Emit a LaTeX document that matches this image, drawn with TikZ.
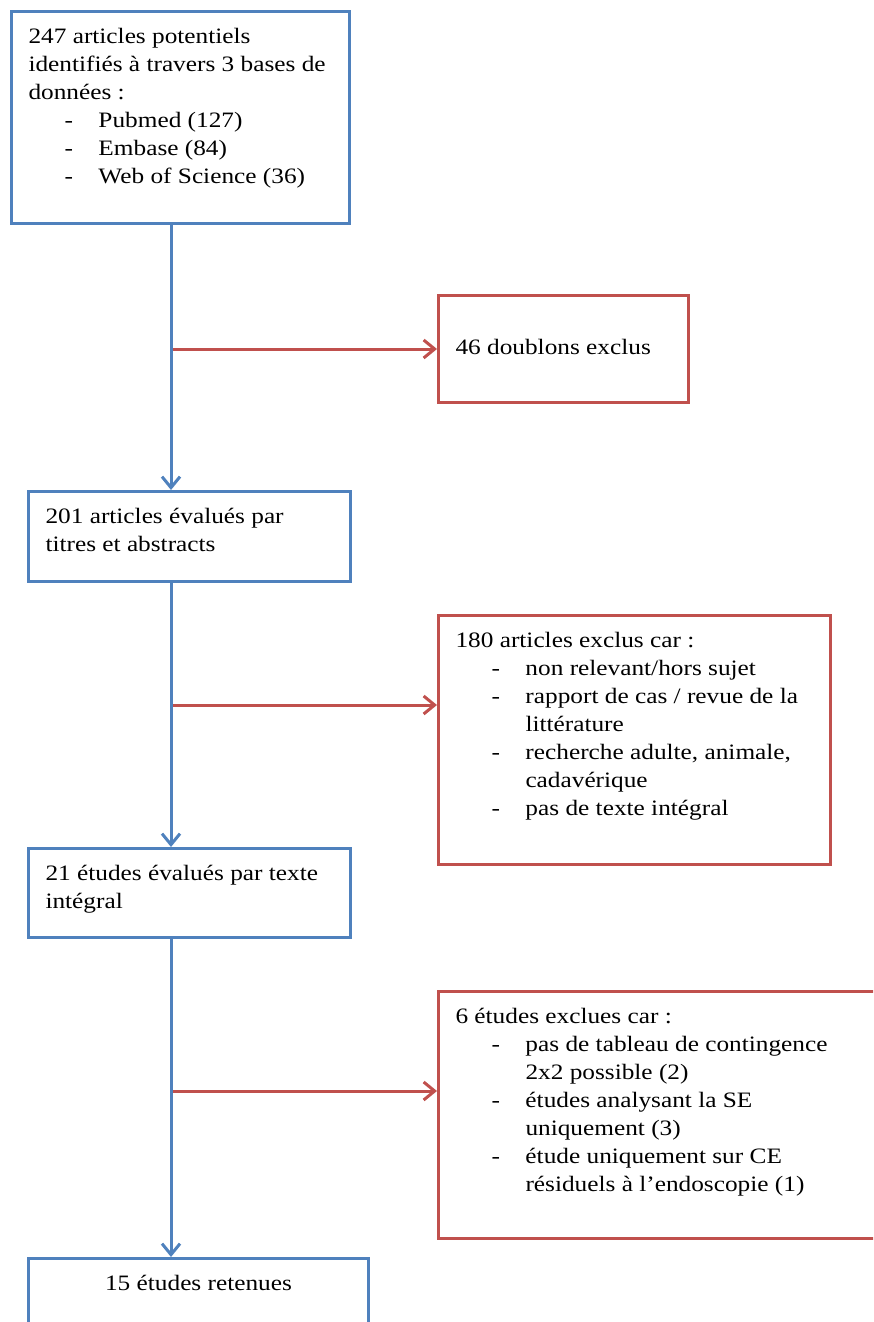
\documentclass[tikz,border=0pt]{standalone}
\usepackage{fontspec}
\setmainfont[FakeStretch=1.15]{Liberation Serif}
\usetikzlibrary{arrows.meta}
\definecolor{stepblue}{RGB}{79,129,189}
\definecolor{exred}{RGB}{192,80,77}
\newlength{\px}\setlength{\px}{0.5pt}
\newcommand{\boxtext}[4][t]{\parbox[c][#3\px][#1]{#2\px}{\raggedright\strut #4}}
\newcommand{\itm}[1]{\\\makebox[35pt][l]{\hspace*{18pt}-}#1}
\newcommand{\cnt}[1]{\\\hspace*{35pt}#1}
\tikzstyle{stage} = [draw=stepblue, line width=1.5pt, anchor=north west, inner xsep=8.5pt, inner ysep=6pt, font=\fontsize{11}{14}\selectfont]
\tikzstyle{excl}  = [stage, draw=exred]
\tikzstyle{flow}  = [draw=stepblue, line width=1.5pt, -{Straight Barb[length=5.5pt,width=9pt]}]
\tikzstyle{drop}  = [flow, draw=exred]

\begin{document}
\begin{tikzpicture}[x=0.5pt, y=-0.5pt]

    \useasboundingbox (0,0) rectangle (873,1322);
    \clip (0,0) rectangle (873,1322);

    \node[stage] (src)    at (10,10)   {\boxtext{304}{188}{247 articles potentiels\\identifiés à travers 3 bases de\\données :\itm{Pubmed (127)}\itm{Embase (84)}\itm{Web of Science (36)}}};
    \node[excl]  (dup)    at (437,294) {\boxtext[c]{216}{83}{46 doublons exclus}};
    \node[stage] (screen) at (27,490)  {\boxtext{288}{66}{201 articles évalués par\\titres et abstracts}};
    \node[excl]  (excla)  at (437,614) {\boxtext{358}{225}{180 articles exclus car :\itm{non relevant/hors sujet}\itm{rapport de cas / revue de la}\cnt{littérature}\itm{recherche adulte, animale,}\cnt{cadavérique}\itm{pas de texte intégral}}};
    \node[stage] (full)   at (27,847)  {\boxtext{288}{65}{21 études évalués par texte\\intégral}};
    \node[excl]  (exclb)  at (437,990) {\boxtext{426}{223}{6 études exclues car :\itm{pas de tableau de contingence}\cnt{2x2 possible (2)}\itm{études analysant la SE}\cnt{uniquement (3)}\itm{étude uniquement sur CE}\cnt{résiduels à l’endoscopie (1)}}};
    \node[stage] (kept)   at (27,1257) {\boxtext{306}{86}{\centering 15 études retenues}};

    \coordinate (spine) at (171,0);
    \coordinate (sa) at (171,349);
    \coordinate (sb) at (171,705);
    \coordinate (sc) at (171,1091);

    \path[drop] (sa) -- (sa -| dup.west);
    \path[drop] (sb) -- (sb -| excla.west);
    \path[drop] (sc) -- (sc -| exclb.west);

    \path[flow] (src.south -| spine)    -- (screen.north -| spine);
    \path[flow] (screen.south -| spine) -- (full.north -| spine);
    \path[flow] (full.south -| spine)   -- (kept.north -| spine);

\end{tikzpicture}
\end{document}
